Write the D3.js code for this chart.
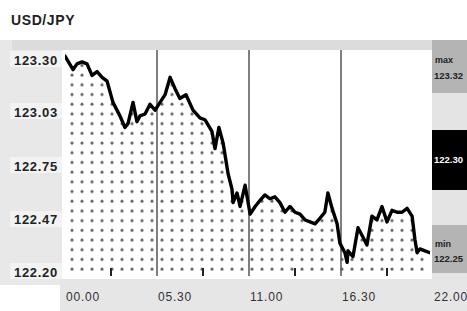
<!DOCTYPE html>
<html>
<head>
<meta charset="utf-8">
<script src="https://cdn.jsdelivr.net/npm/d3@7"></script>
<style>
  body { margin: 0; background: #fff; }
  svg { display: block; font-family: 'Liberation Sans', Arial, sans-serif; }
</style>
</head>
<body>
<div id="graph"></div>
<script>
var title = 'USD/JPY'

var times = ['00:00','00:29','00:43','01:01','01:19','01:37','01:55','02:13','02:31','02:52',
  '03:17','03:35','03:46','04:04','04:18','04:29','04:47','05:05','05:23','05:41',
  '05:59','06:17','06:35','06:52','07:14','07:39','08:04','08:22','08:47','08:58',
  '09:12','09:27','09:45','09:59','10:03','10:17','10:28','10:46','11:04','11:22',
  '11:39','11:57','12:15','12:33','12:51','13:09','13:27','13:45','14:03','14:21',
  '14:39','14:57','15:15','15:32','15:43','15:58','16:16','16:26','16:44','16:52',
  '16:55','17:13','17:31','17:49','18:03','18:21','18:39','18:57','19:15','19:33',
  '19:51','20:09','20:27','20:45','20:55','21:03','21:13','21:31','21:49']

var rates = [123.32,123.25,123.28,123.29,123.28,123.22,123.24,123.21,123.19,123.08,
  123.01,122.95,122.97,123.08,122.98,123.01,123.02,123.07,123.04,123.08,
  123.12,123.21,123.15,123.10,123.12,123.04,123.00,122.99,122.93,122.84,
  122.95,122.87,122.71,122.63,122.56,122.61,122.54,122.65,122.50,122.54,
  122.57,122.60,122.58,122.59,122.56,122.51,122.54,122.51,122.50,122.47,
  122.46,122.45,122.48,122.51,122.61,122.53,122.45,122.35,122.30,122.25,
  122.31,122.28,122.43,122.38,122.34,122.49,122.47,122.54,122.46,122.52,
  122.51,122.51,122.53,122.49,122.37,122.30,122.32,122.31,122.30]

var yTicks = [123.30, 123.03, 122.75, 122.47, 122.20]
var xTicks = ['00:00', '05:30', '11:00', '16:30', '22:00']
var xMinor = ['02:45', '08:15', '13:45', '19:15']

var parse = d3.timeParse('%H:%M')
var data = times.map((t, i) => ({t: parse(t), v: rates[i]}))

var W = 467, H = 311
var pLeft = 65, pRight = 430, pTop = 50, pBottom = 272

var x = d3.scaleTime().domain([parse('00:00'), parse('22:00')]).range([65, 433])
var y = d3.scaleLinear().domain([122.20, 123.30]).range([272, 60])

var svg = d3.select('#graph').append('svg').attr('width', W).attr('height', H)
var defs = svg.append('defs')

var pat = defs.append('pattern')
  .attr('id', 'dots').attr('patternUnits', 'userSpaceOnUse')
  .attr('x', 67).attr('y', 138).attr('width', 10).attr('height', 9.7)
pat.append('circle').attr('cx', 5).attr('cy', 5).attr('r', 1.5).attr('fill', '#666')

defs.append('clipPath').attr('id', 'plotclip')
  .append('rect').attr('x', pLeft).attr('y', pTop).attr('width', pRight - pLeft).attr('height', pBottom - pTop + 4)

// backgrounds
svg.append('rect').attr('x', 0).attr('y', 40).attr('width', 62).attr('height', 245).attr('fill', '#e8e8e8')
svg.append('rect').attr('x', 12).attr('y', 40).attr('width', W - 12).attr('height', 10).attr('fill', '#dcdcdc')
svg.append('rect').attr('x', 60).attr('y', 279).attr('width', W - 60).attr('height', H - 279).attr('fill', '#e6e6e6')

// right side panel
svg.append('rect').attr('x', 432).attr('y', 40).attr('width', 35).attr('height', 240).attr('fill', '#e4e4e4')
svg.append('rect').attr('x', 432).attr('y', 40).attr('width', 35).attr('height', 53).attr('fill', '#b4b4b4')
svg.append('rect').attr('x', 432).attr('y', 130).attr('width', 35).attr('height', 60).attr('fill', '#000')
svg.append('rect').attr('x', 432).attr('y', 225).attr('width', 35).attr('height', 48).attr('fill', '#b4b4b4')

// title
svg.append('text').attr('x', 11).attr('y', 25).text(title)
  .attr('font-size', 14).attr('font-weight', 'bold').attr('fill', '#222').attr('letter-spacing', 0.6)

// y labels
yTicks.forEach(v => {
  svg.append('rect').attr('x', 10).attr('y', y(v) - 9).attr('width', 52).attr('height', 16).attr('fill', '#f3f3f3')
  svg.append('text').attr('x', 14).attr('y', y(v) + 4.5).text(v.toFixed(2))
    .attr('font-size', 13).attr('font-weight', 'bold').attr('fill', '#222').attr('letter-spacing', 0.7)
})

// plot
var plot = svg.append('g').attr('clip-path', 'url(#plotclip)')

var area = d3.area().x(d => x(d.t)).y0(pBottom).y1(d => y(d.v))
var line = d3.line().x(d => x(d.t)).y(d => y(d.v))

plot.append('path').attr('d', area(data)).attr('fill', 'url(#dots)')

xTicks.slice(1, -1).forEach(t => {
  plot.append('line').attr('x1', x(parse(t))).attr('x2', x(parse(t)))
    .attr('y1', pTop).attr('y2', pBottom + 4).attr('stroke', '#555').attr('stroke-width', 1.5)
})

xMinor.forEach(t => {
  plot.append('line').attr('x1', x(parse(t))).attr('x2', x(parse(t)))
    .attr('y1', pBottom - 4).attr('y2', pBottom + 4).attr('stroke', '#222').attr('stroke-width', 2)
})

plot.append('path').attr('d', line(data))
  .attr('fill', 'none').attr('stroke', '#000').attr('stroke-width', 3.4)
  .attr('stroke-linejoin', 'round').attr('stroke-linecap', 'round')

// x labels
xTicks.forEach(t => {
  svg.append('text').attr('x', x(parse(t)) + 1).attr('y', 301).text(t.replace(':', '.'))
    .attr('font-size', 12).attr('fill', '#333').attr('letter-spacing', 0.8)
})

// right labels
var maxV = d3.max(rates), minV = d3.min(rates), lastV = rates[rates.length - 1]
svg.append('text').attr('x', 435).attr('y', 63).text('max').attr('font-size', 9).attr('font-weight', 'bold').attr('fill', '#222')
svg.append('text').attr('x', 434).attr('y', 79).text(maxV.toFixed(2)).attr('font-size', 9.5).attr('font-weight', 'bold').attr('fill', '#222')
svg.append('text').attr('x', 434).attr('y', 163).text(lastV.toFixed(2)).attr('font-size', 9.5).attr('font-weight', 'bold').attr('fill', '#fff')
svg.append('text').attr('x', 435).attr('y', 247).text('min').attr('font-size', 9).attr('font-weight', 'bold').attr('fill', '#222')
svg.append('text').attr('x', 434).attr('y', 262).text(minV.toFixed(2)).attr('font-size', 9.5).attr('font-weight', 'bold').attr('fill', '#222')
</script>
</body>
</html>
